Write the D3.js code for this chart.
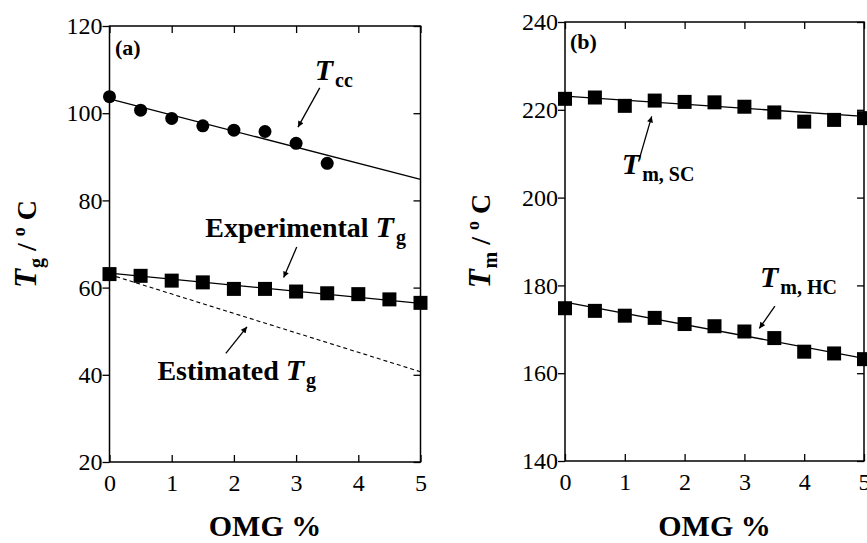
<!DOCTYPE html>
<html>
<head>
<meta charset="utf-8">
<script src="https://cdn.jsdelivr.net/npm/d3@7"></script>
<style>
  body { margin: 0; background: #fff; }
  svg { display: block; }
  svg text { font-family: "Liberation Serif", Tinos, "Times New Roman", Times, "Nimbus Roman", "Nimbus Roman No9 L", serif; }
</style>
</head>
<body>
<svg width="867" height="543"></svg>
<script>
// OMG content (%)
const omg = [0, 0.5, 1, 1.5, 2, 2.5, 3, 3.5, 4, 4.5, 5]
const omgTicks = [0, 1, 2, 3, 4, 5]

// panel (a)
const tcc = [103.8, 100.7, 98.8, 97.1, 96.1, 95.8, 93.1, 88.5]
const tgExp = [63.1, 62.7, 61.6, 61.2, 59.7, 59.7, 59.1, 58.7, 58.5, 57.3, 56.5]
const tccFit = [103.3, 84.8]      // line at OMG 0 and 5
const tgExpFit = [63.3, 56.4]
const tgEst = [63.0, 40.7]        // dashed, estimated Tg
const tgTicks = [20, 40, 60, 80, 100, 120]

// panel (b)
const tmSC = [222.5, 222.8, 220.9, 222.1, 221.8, 221.7, 220.7, 219.4, 217.3, 217.7, 218.1]
const tmHC = [174.8, 174.2, 173.1, 172.6, 171.2, 170.7, 169.5, 168.0, 164.9, 164.5, 163.2]
const tmSCFit = [223.1, 218.5]
const tmHCFit = [176.2, 163.4]
const tmTicks = [140, 160, 180, 200, 220, 240]

const svg = d3.select('svg')

svg.append('defs').append('marker')
  .attr('id', 'head')
  .attr('viewBox', '0 0 10 10')
  .attr('refX', 10).attr('refY', 5)
  .attr('markerUnits', 'userSpaceOnUse')
  .attr('markerWidth', 10).attr('markerHeight', 6)
  .attr('orient', 'auto')
  .append('path').attr('d', 'M0,0L10,5L0,10Z').attr('fill', '#000')

const panels = [
  {
    tag: '(a)', tagPos: [115, 55],
    x: d3.scaleLinear().domain([0, 5]).range([109.5, 420.5]),
    y: d3.scaleLinear().domain([20, 120]).range([462, 26]),
    yTicks: tgTicks, ySub: 'g', yTitlePos: [36, 244],
    series: [
      { values: tcc, shape: 'circle' },
      { values: tgExp, shape: 'square' }
    ],
    fits: [
      { ends: tccFit }, { ends: tgExpFit }, { ends: tgEst, dashed: true }
    ],
    labels: [
      { at: [3.30, 107.6], pre: '', sub: 'cc' },
      { at: [1.54, 71.7], pre: 'Experimental ', sub: 'g' },
      { at: [0.77, 38.8], pre: 'Estimated ', sub: 'g' }
    ],
    arrows: [
      [[3.38, 105.8], [3.03, 96.8]],
      [[3.01, 69.3], [2.80, 62.3]],
      [[1.87, 44.9], [2.21, 51.0]]
    ]
  },
  {
    tag: '(b)', tagPos: [570, 49],
    x: d3.scaleLinear().domain([0, 5]).range([565, 864]),
    y: d3.scaleLinear().domain([140, 240]).range([461, 22]),
    yTicks: tmTicks, ySub: 'm', yTitlePos: [490, 241],
    series: [
      { values: tmSC, shape: 'square' },
      { values: tmHC, shape: 'square' }
    ],
    fits: [ { ends: tmSCFit }, { ends: tmHCFit } ],
    labels: [
      { at: [0.95, 205.4], pre: '', sub: 'm, SC' },
      { at: [3.26, 179.6], pre: '', sub: 'm, HC' }
    ],
    arrows: [
      [[1.23, 208.2], [1.45, 218.5]],
      [[3.51, 175.3], [3.25, 170.2]]
    ]
  }
]

panels.forEach(drawPanel)

function drawPanel(p) {
  const g = svg.append('g')
  const [x0, x1] = p.x.range()
  const [y0, y1] = p.y.range()

  // ticks: left outward with labels, others inward
  g.append('g').attr('transform', `translate(0,${y0})`)
    .call(d3.axisBottom(p.x).tickValues(omgTicks).tickFormat(d3.format('d'))
      .tickSize(-7).tickPadding(12).tickSizeOuter(0))
  g.append('g').attr('transform', `translate(0,${y1})`)
    .call(d3.axisTop(p.x).tickValues(omgTicks).tickSize(-7).tickFormat('').tickSizeOuter(0))
  g.append('g').attr('transform', `translate(${x0},0)`)
    .call(d3.axisLeft(p.y).tickValues(p.yTicks).tickFormat(d3.format('d'))
      .tickSize(7).tickPadding(0).tickSizeOuter(0))
  g.append('g').attr('transform', `translate(${x1},0)`)
    .call(d3.axisRight(p.y).tickValues(p.yTicks).tickSize(-7).tickFormat('').tickSizeOuter(0))
  g.selectAll('.domain').remove()
  g.selectAll('g').attr('font-family', null)
  g.selectAll('.tick line').attr('stroke', '#000').attr('stroke-width', 1.3)
  g.selectAll('.tick text').attr('font-size', 24).attr('fill', '#000')

  g.append('rect')
    .attr('x', x0).attr('y', y1).attr('width', x1 - x0).attr('height', y0 - y1)
    .attr('fill', 'none').attr('stroke', '#000').attr('stroke-width', 1.5)

  // fitted lines
  const line = d3.line().x(d => p.x(d[0])).y(d => p.y(d[1]))
  p.fits.forEach(f => {
    g.append('path')
      .datum([[0, f.ends[0]], [5, f.ends[1]]])
      .attr('d', line)
      .attr('fill', 'none').attr('stroke', '#000')
      .attr('stroke-width', f.dashed ? 1.1 : 1.3)
      .attr('stroke-dasharray', f.dashed ? '4,3' : null)
  })

  // markers
  p.series.forEach(s => {
    const pts = s.values.map((v, i) => [omg[i], v])
    if (s.shape === 'circle') {
      g.selectAll(null).data(pts).enter().append('circle')
        .attr('cx', d => p.x(d[0])).attr('cy', d => p.y(d[1]))
        .attr('r', 6.5).attr('fill', '#000')
    } else {
      g.selectAll(null).data(pts).enter().append('rect')
        .attr('x', d => p.x(d[0]) - 7).attr('y', d => p.y(d[1]) - 7)
        .attr('width', 14).attr('height', 14).attr('fill', '#000')
    }
  })

  // annotation arrows
  p.arrows.forEach(a => {
    g.append('line')
      .attr('x1', p.x(a[0][0])).attr('y1', p.y(a[0][1]))
      .attr('x2', p.x(a[1][0])).attr('y2', p.y(a[1][1]))
      .attr('stroke', '#000').attr('stroke-width', 1.3)
      .attr('marker-end', 'url(#head)')
  })

  // annotation labels
  p.labels.forEach(l => {
    const t = g.append('text')
      .attr('x', p.x(l.at[0])).attr('y', p.y(l.at[1]))
      .attr('font-weight', 'bold').attr('font-size', 28)
    if (l.pre) t.append('tspan').text(l.pre)
    t.append('tspan').attr('font-style', 'italic').attr('font-size', 30).text('T')
    t.append('tspan').attr('font-size', 20).attr('dx', 2).attr('dy', 7).text(l.sub)
  })

  // panel tag
  g.append('text').attr('x', p.tagPos[0]).attr('y', p.tagPos[1])
    .attr('font-weight', 'bold').attr('font-size', 22)
    .text(p.tag)

  // axis titles
  g.append('text')
    .attr('x', (x0 + x1) / 2).attr('y', 536)
    .attr('text-anchor', 'middle')
    .attr('font-weight', 'bold').attr('font-size', 30)
    .text('OMG %')

  const yt = g.append('text')
    .attr('transform', `translate(${p.yTitlePos[0]},${p.yTitlePos[1]}) rotate(-90)`)
    .attr('text-anchor', 'middle')
    .attr('font-weight', 'bold').attr('font-size', 28)
  yt.append('tspan').attr('font-style', 'italic').attr('font-size', 31).text('T')
  yt.append('tspan').attr('font-size', 20).attr('dx', 1).attr('dy', 7).text(p.ySub)
  yt.append('tspan').attr('dy', -7).text(' / ')
  yt.append('tspan').attr('font-size', 18).attr('dy', -11).text('o')
  yt.append('tspan').attr('dy', 11).text(' C')
}
</script>
</body>
</html>
